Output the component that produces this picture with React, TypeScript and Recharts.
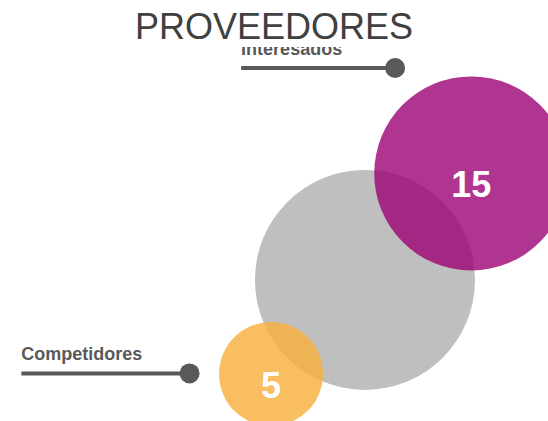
import {
  Cell,
  ReferenceDot,
  ReferenceLine,
  Scatter,
  ScatterChart,
  XAxis,
  YAxis,
  ZAxis,
} from 'recharts';

// burbujas: gris (sin etiqueta), interesados, competidores
const posX = [66.6, 86.0, 49.45];
const posY = [33.5, 58.8, 11.15];
const valores = [19, 15, 5];
const mostrarValor = [false, true, true];

// llamadas con linea y punto
const llamadas = ['Interesados', 'Competidores'];
const llamadaDesde = [44.0, 3.9];
const llamadaX = [72.1, 34.6];
const llamadaY = [83.85, 11.3];

const COLORES = ['#bfbfbf', '#9c0374', '#f8b13e'];
const OPACIDAD = [1, 0.8, 0.83];
const GRIS = '#595959';
const FUENTE = '"Liberation Sans", Arial, sans-serif';

const burbujas = posX.map((x, i) => ({
  x,
  y: posY[i],
  z: valores[i],
  mostrar: mostrarValor[i],
}));

const Burbuja = (props: any) => {
  const { cx, cy, width, size, fill, fillOpacity, payload } = props;
  const r = width ? width / 2 : Math.sqrt(size / Math.PI);
  return (
    <g>
      <circle cx={cx} cy={cy} r={r} fill={fill} fillOpacity={fillOpacity} />
      {payload.mostrar && (
        <text
          x={cx}
          y={cy + 24}
          textAnchor="middle"
          fill="#fff"
          fontSize={36}
          fontWeight="bold"
          fontFamily={FUENTE}
        >
          {payload.z}
        </text>
      )}
    </g>
  );
};

const etiquetaLlamada = (texto: string) => (props: any) => {
  const { viewBox } = props;
  return (
    <text
      x={viewBox.x}
      y={viewBox.y - 13}
      fill={GRIS}
      fontSize={18}
      fontWeight="bold"
      fontFamily={FUENTE}
    >
      {texto}
    </text>
  );
};

export default function App() {
  return (
    <div
      style={{
        position: 'absolute',
        left: 0,
        top: 0,
        width: 548,
        height: 421,
        overflow: 'hidden',
        background: '#fff',
      }}
    >
      <ScatterChart width={548} height={421} margin={{ top: 0, right: 0, bottom: 0, left: 0 }}>
        <XAxis type="number" dataKey="x" domain={[0, 100]} hide />
        <YAxis type="number" dataKey="y" domain={[0, 100]} hide />
        <ZAxis type="number" dataKey="z" domain={[5, 19]} range={[8495, 38013]} />
        {llamadas.map((nombre, i) => (
          <ReferenceLine
            key={nombre}
            segment={[
              { x: llamadaDesde[i], y: llamadaY[i] },
              { x: llamadaX[i], y: llamadaY[i] },
            ]}
            stroke={GRIS}
            strokeWidth={4}
            label={etiquetaLlamada(nombre)}
          />
        ))}
        {llamadas.map((nombre, i) => (
          <ReferenceDot
            key={nombre + '-punto'}
            x={llamadaX[i]}
            y={llamadaY[i]}
            r={10}
            fill={GRIS}
            stroke="none"
          />
        ))}
        <Scatter data={burbujas} shape={Burbuja} isAnimationActive={false}>
          {burbujas.map((_, i) => (
            <Cell key={i} fill={COLORES[i]} fillOpacity={OPACIDAD[i]} />
          ))}
        </Scatter>
      </ScatterChart>
      <div
        style={{
          position: 'absolute',
          left: 0,
          top: 0,
          width: 548,
          height: 47,
          background: '#fff',
          textAlign: 'center',
          fontFamily: FUENTE,
          fontSize: 36,
          lineHeight: '36px',
          paddingTop: 9,
          boxSizing: 'border-box',
          color: '#404040',
        }}
      >
        PROVEEDORES
      </div>
    </div>
  );
}
